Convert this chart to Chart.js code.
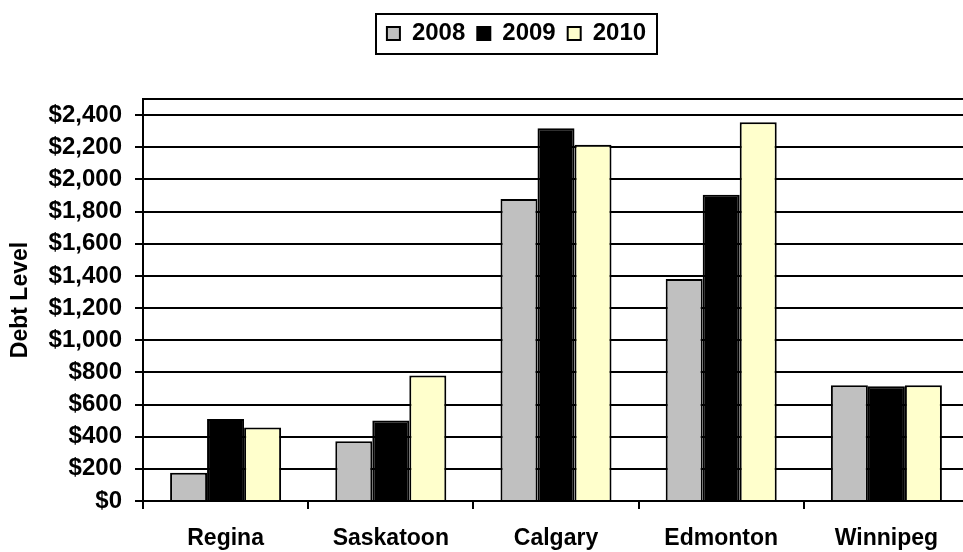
<!DOCTYPE html>
<html>
<head>
<meta charset="utf-8">
<script src="https://cdn.jsdelivr.net/npm/chart.js@4.4.0/dist/chart.umd.min.js"></script>
<style>
html,body{margin:0;padding:0;background:#ffffff;overflow:hidden;width:963px;height:552px}
#wrap{position:relative;width:1033px;height:552px}
canvas{display:block}
</style>
</head>
<body>
<div id="wrap"><canvas id="c" width="1033" height="552"></canvas></div>
<script>
const categories = ['Regina', 'Saskatoon', 'Calgary', 'Edmonton', 'Winnipeg'];
const seriesNames = ['2008', '2009', '2010'];
const debt2008 = [175, 372, 1878, 1380, 720];
const debt2009 = [510, 500, 2318, 1905, 713];
const debt2010 = [457, 780, 2215, 2355, 720];
const yTickValues = [0, 200, 400, 600, 800, 1000, 1200, 1400, 1600, 1800, 2000, 2200, 2400];
const yMax = 2500;

const FONT = "'Liberation Sans', Arial, sans-serif";

function money(v) {
  return '$' + String(v).replace(/\B(?=(\d{3})+(?!\d))/g, ',');
}

const legendBoxPlugin = {
  id: 'legendBox',
  afterLayout(chart) {
    const lg = chart.legend;
    if (!lg) return;
    lg.right = chart.width;
    lg.width = lg.right - lg.left;
  },
  afterDraw(chart) {
    const lg = chart.legend;
    if (!lg || !lg.lineWidths) return;
    const pad = lg.options.labels.padding;
    const itemH = 24;
    const start = (lg.left + pad + lg.right - lg.lineWidths[0]) / 2;
    const rowW = lg.lineWidths[0] - pad;
    const itemTop = lg.top + pad;
    const ctx = chart.ctx;
    ctx.save();
    ctx.strokeStyle = '#000';
    ctx.lineWidth = 2;
    ctx.strokeRect(Math.round(start - 11), Math.round(itemTop - 8),
      Math.round(rowW + 22), Math.round(itemH + 16));
    ctx.restore();
  }
};

new Chart(document.getElementById('c'), {
  type: 'bar',
  data: {
    labels: categories,
    datasets: [
      { label: seriesNames[0], data: debt2008, backgroundColor: '#C0C0C0', borderColor: '#000000', borderWidth: 2 },
      { label: seriesNames[1], data: debt2009, backgroundColor: '#000000', borderColor: '#000000', borderWidth: 2 },
      { label: seriesNames[2], data: debt2010, backgroundColor: '#FFFFCC', borderColor: '#000000', borderWidth: 2 }
    ]
  },
  options: {
    responsive: false,
    animation: false,
    layout: { padding: { top: 9.5, left: 0, right: 64, bottom: 0 } },
    datasets: { bar: { categoryPercentage: 0.672, barPercentage: 1 } },
    plugins: {
      legend: {
        position: 'top',
        labels: {
          boxWidth: 13, boxHeight: 13, padding: 12, color: '#000',
          font: { family: FONT, size: 24, weight: 'bold' }
        }
      },
      title: {
        display: true, text: '', weight: 500,
        font: { size: 10, lineHeight: 1 },
        padding: { top: 0, bottom: 33.5 }
      },
      tooltip: { enabled: false }
    },
    scales: {
      x: {
        grid: { display: true, drawOnChartArea: false, offset: true, tickLength: 8, color: '#000', lineWidth: 2 },
        border: { color: '#000', width: 2 },
        ticks: { color: '#000', font: { family: FONT, size: 23, weight: 'bold' }, padding: 16, maxRotation: 0, autoSkip: false },
        afterFit: s => { s.height = 51; }
      },
      y: {
        min: 0, max: yMax,
        afterBuildTicks: s => { s.ticks = yTickValues.concat([yMax]).map(v => ({ value: v })); },
        ticks: {
          color: '#000', padding: 13, autoSkip: false,
          font: { family: FONT, size: 24, weight: 'bold' },
          callback: v => (yTickValues.includes(v) ? money(v) : '')
        },
        grid: {
          color: '#000', lineWidth: 2, tickLength: 8,
          tickColor: c => (c.tick && c.tick.value === yMax ? 'rgba(0,0,0,0)' : '#000')
        },
        border: { color: '#000', width: 2 },
        title: {
          display: true, text: 'Debt Level', color: '#000',
          font: { family: FONT, size: 23, weight: 'bold' },
          padding: { top: 7, bottom: 0 }
        },
        afterFit: s => { s.width = 143; }
      }
    }
  },
  plugins: [legendBoxPlugin]
});
</script>
</body>
</html>
